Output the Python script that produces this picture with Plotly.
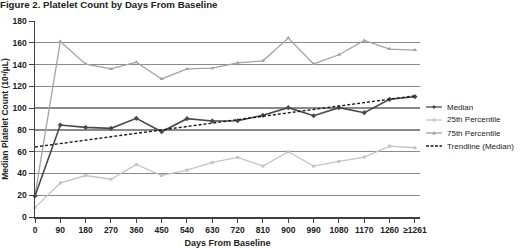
import numpy as np
import plotly.graph_objects as go

days_labels = ["0", "90", "180", "270", "360", "450", "540", "630", "720", "810",
               "900", "990", "1080", "1170", "1260", "≥1261"]
median = [19.3, 84.5, 82.3, 81.4, 90.6, 78.3, 90.3, 88.2, 88.4, 93.4,
          100.4, 93.0, 100.4, 95.8, 108.1, 110.5]
p25 = [8.6, 31.3, 38.1, 34.7, 48.2, 38.1, 43.0, 50.1, 54.7, 46.7,
       59.9, 46.7, 51.0, 55.0, 65.1, 63.6]
p75 = [20.0, 161.2, 140.4, 136.0, 142.2, 126.8, 136.0, 136.7, 141.6, 143.4,
       164.3, 140.6, 149.0, 162.1, 154.2, 153.3]
series_names = ["Median", "25th Percentile", "75th Percentile", "Trendline (Median)"]
y_ticks = [0, 20, 40, 60, 80, 100, 120, 140, 160, 180]

x = np.arange(len(days_labels))
slope, intercept = np.polyfit(x, median, 1)
trend = intercept + slope * x

FONT = "Liberation Sans, Arial, sans-serif"
colors = ["#4a4a4a", "#c4c4c4", "#a3a3a3", "#1a1a1a"]
symbols = ["diamond", "square", "triangle-up", None]

fig = go.Figure()
fig.add_trace(go.Scatter(x=x, y=p75, mode="lines+markers", name=series_names[2],
                         line=dict(color=colors[2], width=1.3),
                         marker=dict(symbol="triangle-up", size=4, color=colors[2]),
                         cliponaxis=False, showlegend=False))
fig.add_trace(go.Scatter(x=x, y=p25, mode="lines+markers", name=series_names[1],
                         line=dict(color=colors[1], width=1.3),
                         marker=dict(symbol="square", size=3, color=colors[1]),
                         cliponaxis=False, showlegend=False))
fig.add_trace(go.Scatter(x=x, y=median, mode="lines+markers", name=series_names[0],
                         line=dict(color=colors[0], width=1.6),
                         marker=dict(symbol="diamond", size=4, color=colors[0]),
                         cliponaxis=False, showlegend=False))
fig.add_trace(go.Scatter(x=x, y=trend, mode="lines", name=series_names[3],
                         line=dict(color=colors[3], width=1.4, dash="3px,2px"),
                         cliponaxis=False, showlegend=False))

# compact legend (manual)
L, T, H = 35, 21, 196
W = 385
def px(v):
    return (v - L) / W
def py(v):
    return (T + H - v) / H

shapes = []
annotations = []
rows = [107, 120, 133, 146]
for i, name in enumerate(series_names):
    yy = py(rows[i])
    shapes.append(dict(type="line", xref="paper", yref="paper",
                       x0=px(426), x1=px(442), y0=yy, y1=yy,
                       line=dict(color=colors[i], width=1.3,
                                 dash="3px,1.5px" if i == 3 else "solid")))
    if symbols[i] == "diamond":
        shapes.append(dict(type="path", xref="paper", yref="paper",
                           xsizemode="pixel", ysizemode="pixel",
                           xanchor=px(434), yanchor=yy,
                           path="M -2,0 L 0,2 L 2,0 L 0,-2 Z",
                           fillcolor=colors[i], line=dict(width=0)))
    elif symbols[i] == "square":
        shapes.append(dict(type="rect", xref="paper", yref="paper",
                           xsizemode="pixel", ysizemode="pixel",
                           xanchor=px(434), yanchor=yy,
                           x0=-1.5, x1=1.5, y0=-1.5, y1=1.5,
                           fillcolor=colors[i], line=dict(width=0)))
    elif symbols[i] == "triangle-up":
        shapes.append(dict(type="path", xref="paper", yref="paper",
                           xsizemode="pixel", ysizemode="pixel",
                           xanchor=px(434), yanchor=yy,
                           path="M -2,-1.5 L 2,-1.5 L 0,2 Z",
                           fillcolor=colors[i], line=dict(width=0)))
    annotations.append(dict(text=name, xref="paper", yref="paper",
                            x=px(446), y=yy, xanchor="left", yanchor="middle",
                            showarrow=False, borderpad=0,
                            font=dict(family=FONT, size=8, color="#222222")))

fig.update_layout(
    width=520, height=248,
    margin=dict(l=L, r=520 - L - W, t=T, b=248 - T - H, pad=0, autoexpand=False),
    paper_bgcolor="white", plot_bgcolor="white",
    title=dict(text="Figure 2. Platelet Count by Days From Baseline",
               x=0, xref="container", xanchor="left",
               y=1, yref="container", yanchor="top", pad=dict(t=1, l=0),
               font=dict(family=FONT, size=9.7, color="#222222", weight="bold")),
    shapes=shapes, annotations=annotations,
    xaxis=dict(range=[0, 15.2], tickvals=list(x), ticktext=days_labels,
               automargin=False,
               showgrid=False, zeroline=False, showline=True,
               linecolor="#404040", linewidth=1.5,
               ticks="outside", ticklen=4, tickcolor="#404040", tickwidth=1,
               tickfont=dict(family=FONT, size=8.5, color="#222222", weight="bold"),
               title=dict(text="Days From Baseline", standoff=6,
                          font=dict(family=FONT, size=9, color="#222222", weight="bold"))),
    yaxis=dict(range=[0, 180], tickvals=y_ticks, automargin=False,
               showgrid=True, gridcolor="#8a8a8a", gridwidth=1.3,
               zeroline=False, showline=True, linecolor="#404040", linewidth=1.5,
               ticks="outside", ticklen=5, tickcolor="#404040", tickwidth=1,
               tickfont=dict(family=FONT, size=8.5, color="#222222", weight="bold"),
               title=dict(text="Median Platelet Count (10³/µL)", standoff=3,
                          font=dict(family=FONT, size=8.5, color="#222222", weight="bold"))),
)

fig.write_html("out.html",
               config={"displayModeBar": False, "staticPlot": True},
               post_script="document.body.style.margin='0';"
                           "document.documentElement.style.overflow='hidden';")
